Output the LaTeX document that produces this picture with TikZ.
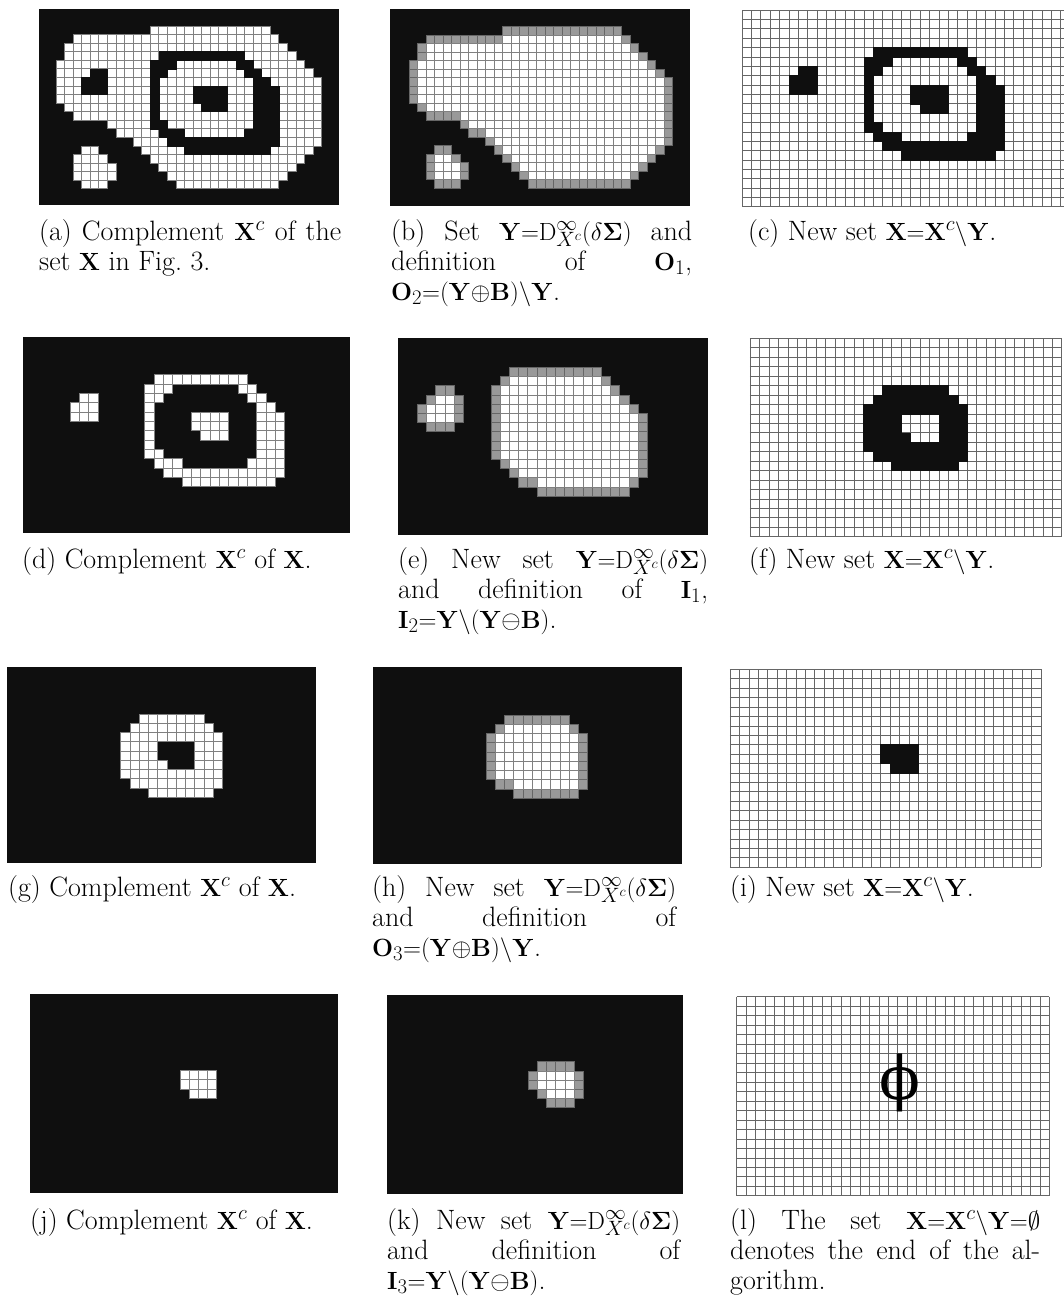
\documentclass[tikz,border=0pt]{standalone}
\usepackage[no-math]{fontspec}
\newfontfamily\phifont{DejaVu Serif}
\newcommand\capfont{\fontsize{28}{30}\selectfont}
\tikzset{
  frameblack/.style={fill=black!94},
  wcell/.style={fill=white, draw=black!50, line width=0.7pt},
  gcell/.style={fill=black!40, draw=black!60, line width=0.7pt},
  bcell/.style={fill=black!94, draw=black!94, line width=0.4pt},
  gline/.style={draw=black!60, line width=0.55pt},
  captext/.style={anchor=base west, inner sep=0pt, font=\capfont},
}
\newcommand\cells[2]{\foreach \ro/\ca/\cb in #2 {\foreach \ci in {\ca,...,\cb} {\path[#1] (\ci,\ro) rectangle ++(1,1);}}}
\def\datOUT{1/13/26,2/4/27,3/3/28,4/3/29,5/2/30,6/2/31,7/2/32,8/2/32,9/2/32,10/3/32,11/4/32,12/8/32,13/9/32,14/11/32,15/12/31,16/13/30,17/14/29,18/15/28,19/16/27}
\def\datS{15/5/6,16/4/7,17/4/8,18/4/8,19/5/7}
\def\datH{6/6/7,7/5/7,8/5/7}
\def\datR{4/14/23,5/13/15,5/23/24,6/13/14,6/24/25,7/13/13,7/25/26,8/13/13,8/25/27,9/13/13,9/25/27,10/13/13,10/25/27,11/13/13,11/25/27,12/13/14,12/25/27,13/14/16,13/24/27,14/15/27,15/17/26}
\def\datC{8/18/21,9/18/21,10/19/21}
\def\datW{5/16/22,6/15/23,7/14/24,8/14/17,8/22/24,9/14/17,9/22/24,10/14/18,10/22/24,11/14/24,12/15/24,13/17/23}
\def\dateOUT{2/13/26,3/4/27,4/4/28,5/3/29,6/3/30,7/3/31,8/3/31,9/3/31,10/4/31,11/8/31,12/9/31,13/11/31,14/12/31,15/13/30,16/14/29,17/15/28,18/16/27}
\def\dateS{16/5/6,17/5/7,18/5/7}
\def\datfR{4/14/23,5/13/24,6/13/25,7/13/26,8/13/27,9/13/27,10/13/27,11/13/27,12/13/27,13/14/27,14/15/27,15/17/26}
\def\datdR{3/14/23,4/13/24,5/12/25,6/12/26,7/12/27,8/12/28,9/12/28,10/12/28,11/12/28,12/12/28,13/13/28,14/14/28,15/15/27,16/17/26}
\def\datdH{5/6/7,6/5/8,7/4/8,8/4/8,9/5/7}
\def\datfW{5/16/22,6/15/23,7/14/24,8/14/24,9/14/24,10/14/24,11/14/24,12/15/24,13/17/23}
\def\dateW{6/16/22,7/15/23,8/15/23,9/15/23,10/15/23,11/15/23,12/17/23}
\def\datdC{7/18/21,8/17/22,9/17/22,10/18/22,11/19/21}
\newcommand\Yset{$\mathbf{Y}{=}\mathrm{D}^{\infty}_{X^c}(\delta\mathbf{\Sigma})$}
\newcommand\Xset{$\mathbf{X}{=}\mathbf{X}^c\backslash\mathbf{Y}$}
\begin{document}
\begin{tikzpicture}[x=1pt,y=-1pt]
\useasboundingbox (0,0) rectangle (1064,1296);
\fill[white] (0,0) rectangle (1064,1296);
% ---------- black frames
\fill[frameblack] (38.8,8.7) rectangle (338.8,205);
\fill[frameblack] (390,9) rectangle (690,206);
\fill[frameblack] (23.3,337.3) rectangle (349.9,533.2);
\fill[frameblack] (397.7,338.3) rectangle (708.1,535);
\fill[frameblack] (6.7,666.7) rectangle (316,863.3);
\fill[frameblack] (372.8,667.3) rectangle (682.1,864);
\fill[frameblack] (29.5,994) rectangle (338.4,1192.7);
\fill[frameblack] (386.6,994.7) rectangle (683,1194);
% ---------- (a)
\begin{scope}[shift={(38.8,17.3)}, x=8.57pt, y=-8.57pt]
  \cells{wcell}{\datOUT}
  \cells{wcell}{\datS}
  \cells{bcell}{\datH}
  \cells{bcell}{\datR}
  \cells{bcell}{\datC}
\end{scope}
% ---------- (b)
\begin{scope}[shift={(392.2,18.2)}, x=8.5pt, y=-8.5pt]
  \cells{gcell}{\datOUT}
  \cells{gcell}{\datS}
  \cells{wcell}{\dateOUT}
  \cells{wcell}{\dateS}
\end{scope}
% ---------- (c)
\begin{scope}[shift={(742,10)}, x=9.37pt, y=-9.37pt]
  \clip (0,0) rectangle (34.36,21);
  \foreach \i in {0,...,35} \draw[gline] (\i,0) -- (\i,21);
  \foreach \j in {0,...,21} \draw[gline] (0,\j) -- (35,\j);
  \cells{bcell}{\datH}
  \cells{bcell}{\datR}
  \cells{bcell}{\datC}
\end{scope}
% ---------- (d)
\begin{scope}[shift={(23.3,337.3)}, x=9.33pt, y=-9.33pt]
  \cells{wcell}{\datH}
  \cells{wcell}{\datR}
  \cells{wcell}{\datC}
\end{scope}
% ---------- (e)
\begin{scope}[shift={(380.5,339.8)}, x=9.2pt, y=-9.2pt]
  \cells{gcell}{\datdR}
  \cells{gcell}{\datdH}
  \cells{wcell}{\datfR}
  \cells{wcell}{\datH}
\end{scope}
% ---------- (f)
\begin{scope}[shift={(731.1,338.3)}, x=9.445pt, y=-9.445pt]
  \foreach \i in {2,...,35} \draw[gline] (\i,0) -- (\i,21);
  \foreach \j in {0,...,21} \draw[gline] (2,\j) -- (35,\j);
  \cells{bcell}{\datW}
\end{scope}
% ---------- (g)
\begin{scope}[shift={(-8.7,667.75)}, x=9.25pt, y=-9.25pt]
  \cells{wcell}{\datW}
\end{scope}
% ---------- (h)
\begin{scope}[shift={(356.5,668.75)}, x=9.25pt, y=-9.25pt]
  \cells{gcell}{\datfW}
  \cells{wcell}{\dateW}
\end{scope}
% ---------- (i)
\begin{scope}[shift={(711.1,669.3)}, x=9.42pt, y=-9.42pt]
  \foreach \i in {2,...,35} \draw[gline] (\i,0) -- (\i,21);
  \foreach \j in {0,...,21} \draw[gline] (2,\j) -- (35,\j);
  \cells{bcell}{\datC}
\end{scope}
% ---------- (j)
\begin{scope}[shift={(16.1,997.9)}, x=9.1pt, y=-9.1pt]
  \cells{wcell}{\datC}
\end{scope}
% ---------- (k)
\begin{scope}[shift={(371.7,997.3)}, x=9.2pt, y=-9.2pt]
  \cells{gcell}{\datdC}
  \cells{wcell}{\datC}
\end{scope}
% ---------- (l)
\begin{scope}[shift={(736.7,996.7)}, x=9.473pt, y=-9.476pt]
  \foreach \i in {0,...,33} \draw[gline] (\i,0) -- (\i,21);
  \foreach \j in {0,...,21} \draw[gline] (0,\j) -- (33,\j);
\end{scope}
\node[font=\phifont\fontsize{60}{64}\selectfont, inner sep=0pt] (phi) at (900,1082.8) {ϕ};
% ---------- captions
\node[captext] (capa) at (39,240) {\parbox[t]{302pt}{(a) Complement $\mathbf{X}^c$ of the\linebreak set $\mathbf{X}$ in Fig.~3.}};
\node[captext] (capb) at (391,240) {\parbox[t]{301pt}{(b) Set \Yset\ and\linebreak definition of $\mathbf{O}_1$,\linebreak $\mathbf{O}_2{=}(\mathbf{Y}{\oplus}\mathbf{B})\backslash\mathbf{Y}$.}};
\node[captext] (capc) at (748,240) {(c) New set \Xset.};
\node[captext] (capd) at (22,568) {(d) Complement $\mathbf{X}^c$ of $\mathbf{X}$.};
\node[captext] (cape) at (398,568) {\parbox[t]{310pt}{(e) New set \Yset\linebreak and definition of $\mathbf{I}_1$,\linebreak $\mathbf{I}_2{=}\mathbf{Y}\backslash(\mathbf{Y}{\ominus}\mathbf{B})$.}};
\node[captext] (capf) at (749,568) {(f) New set \Xset.};
\node[captext] (capg) at (8,896) {(g) Complement $\mathbf{X}^c$ of $\mathbf{X}$.};
\node[captext] (caph) at (372,896) {\parbox[t]{304pt}{(h) New set \Yset\linebreak and definition of\linebreak $\mathbf{O}_3{=}(\mathbf{Y}{\oplus}\mathbf{B})\backslash\mathbf{Y}$.}};
\node[captext] (capi) at (730,896) {(i) New set \Xset.};
\node[captext] (capj) at (30,1229) {(j) Complement $\mathbf{X}^c$ of $\mathbf{X}$.};
\node[captext] (capk) at (387,1229) {\parbox[t]{293pt}{(k) New set \Yset\linebreak and definition of\linebreak $\mathbf{I}_3{=}\mathbf{Y}\backslash(\mathbf{Y}{\ominus}\mathbf{B})$.}};
\node[captext] (capl) at (730,1229) {\parbox[t]{310pt}{(l) The set $\mathbf{X}{=}\mathbf{X}^c\backslash\mathbf{Y}{=}\emptyset$\linebreak denotes the end of the al-\linebreak gorithm.}};
\end{tikzpicture}
\end{document}
